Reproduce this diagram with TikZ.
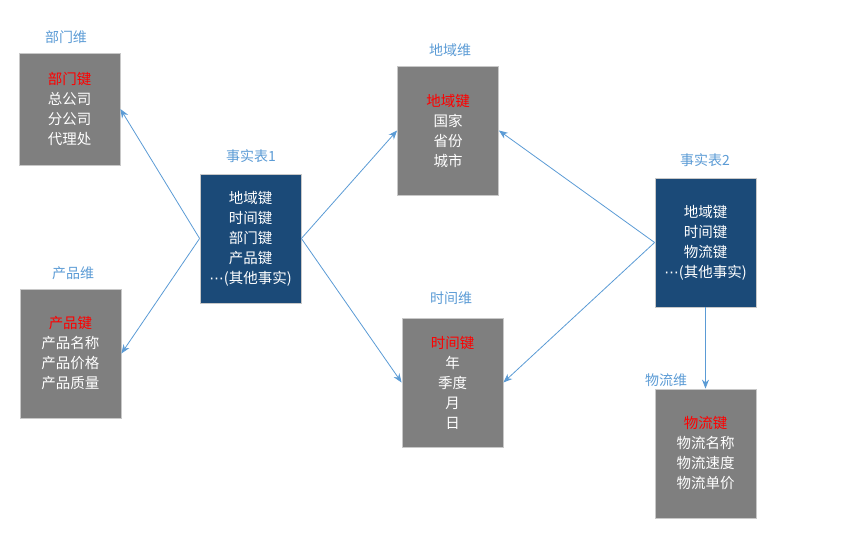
\documentclass[tikz,border=0pt]{standalone}
\usepackage{fontspec}
\setmainfont{Noto Sans CJK SC}
\newfontfamily\symfont{DejaVu Sans}
\usetikzlibrary{arrows.meta}
\definecolor{dimgray}{HTML}{7F7F7F}
\definecolor{factblue}{HTML}{1B4A78}
\definecolor{lblblue}{HTML}{5B9BD5}
\definecolor{keyred}{HTML}{FF0000}
\definecolor{edgegray}{HTML}{C8C8C8}
\newcommand{\middots}{{\symfont ⋯}}
\begin{document}
\begin{tikzpicture}[x=1pt,y=-1pt,
  dimbox/.style={draw=edgegray,line width=0.8pt,fill=dimgray,text=white,align=center,
    minimum width=101pt,minimum height=129pt,inner sep=0pt,font=\fontsize{14.5}{20}\selectfont},
  factbox/.style={dimbox,fill=factblue},
  lbl/.style={text=lblblue,font=\fontsize{14}{16}\selectfont,inner sep=0pt},
  conn/.style={draw=lblblue,line width=0.8pt,-{Stealth[length=9pt,width=7pt]}}]
\useasboundingbox (0,0) rectangle (857,553);
% boxes
\node[dimbox,minimum height=112pt] (dept) at (69.5,109) {\textcolor{keyred}{部门键}\\总公司\\分公司\\代理处};
\node[dimbox] (prod) at (70.5,353.5) {\textcolor{keyred}{产品键}\\产品名称\\产品价格\\产品质量};
\node[factbox] (fact1) at (250.5,238.5) {地域键\\时间键\\部门键\\产品键\\\middots(其他事实)};
\node[dimbox] (region) at (448,130.5) {\textcolor{keyred}{地域键}\\国家\\省份\\城市};
\node[dimbox] (time) at (452.5,382.5) {\textcolor{keyred}{时间键}\\年\\季度\\月\\日};
\node[factbox] (fact2) at (705.5,242.5) {地域键\\时间键\\物流键\\\middots(其他事实)};
\node[dimbox] (logi) at (705.5,453.5) {\textcolor{keyred}{物流键}\\物流名称\\物流速度\\物流单价};
% labels
\node[lbl] (ldept) at (66,37) {部门维};
\node[lbl] (lprod) at (73,273) {产品维};
\node[lbl] (lfact1) at (251,156) {事实表1};
\node[lbl] (lregion) at (450,50) {地域维};
\node[lbl] (ltime) at (451,298) {时间维};
\node[lbl] (lfact2) at (705,160) {事实表2};
\node[lbl] (llogi) at (666,380) {物流维};
% connectors
\draw[conn] (fact1.west) -- (dept.east);
\draw[conn] (fact1.west) -- (prod.east);
\draw[conn] (fact1.east) -- (region.west);
\draw[conn] (fact1.east) -- (time.west);
\draw[conn] (fact2.west) -- (region.east);
\draw[conn] (fact2.west) -- (time.east);
\draw[conn] (fact2.south) -- (logi.north);
\end{tikzpicture}
\end{document}
